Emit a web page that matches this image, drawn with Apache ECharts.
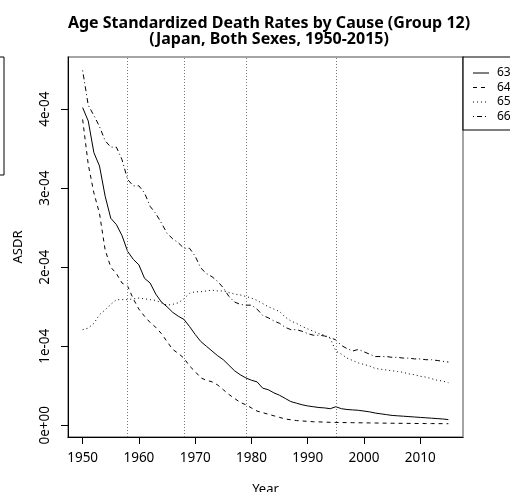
<!DOCTYPE html>
<html>
<head>
<meta charset="utf-8">
<script src="https://cdn.jsdelivr.net/npm/echarts@6/dist/echarts.min.js"></script>
<style>
html,body{margin:0;padding:0;background:#fff;}
#c{width:510px;height:492px;}
</style>
</head>
<body>
<div id="c"></div>
<script>
// Years 1950..2015
const years = [];
for (let y = 1950; y <= 2015; y++) years.push(y);

// ASDR values in units of 1e-04
const cause63 = [4.02,3.85,3.45,3.28,2.90,2.62,2.54,2.40,2.20,2.10,
  2.03,1.86,1.80,1.66,1.56,1.50,1.43,1.38,1.34,1.25,
  1.15,1.06,1.00,0.94,0.88,0.83,0.76,0.69,0.64,0.60,
  0.57,0.55,0.47,0.45,0.41,0.38,0.34,0.30,0.28,0.26,
  0.245,0.235,0.225,0.22,0.21,0.235,0.21,0.20,0.195,0.19,
  0.18,0.17,0.155,0.145,0.135,0.125,0.12,0.115,0.11,0.105,
  0.10,0.095,0.09,0.085,0.08,0.072];
const cause64 = [3.87,3.30,2.94,2.68,2.22,2.00,1.92,1.80,1.76,1.60,
  1.47,1.38,1.30,1.24,1.16,1.06,0.96,0.91,0.85,0.75,
  0.68,0.60,0.57,0.55,0.51,0.45,0.39,0.34,0.29,0.26,
  0.22,0.18,0.16,0.14,0.12,0.10,0.08,0.07,0.06,0.055,
  0.05,0.045,0.043,0.04,0.038,0.036,0.035,0.034,0.033,0.032,
  0.031,0.030,0.029,0.028,0.027,0.026,0.025,0.025,0.024,0.023,
  0.023,0.022,0.022,0.021,0.021,0.020];
const cause65 = [1.21,1.23,1.29,1.40,1.46,1.53,1.59,1.59,1.59,1.60,
  1.61,1.60,1.59,1.58,1.55,1.52,1.53,1.55,1.60,1.67,
  1.69,1.69,1.70,1.71,1.70,1.70,1.68,1.66,1.65,1.63,
  1.61,1.58,1.54,1.50,1.47,1.44,1.37,1.32,1.29,1.25,
  1.22,1.19,1.16,1.14,1.10,0.94,0.90,0.85,0.82,0.79,
  0.77,0.75,0.72,0.71,0.70,0.69,0.68,0.67,0.65,0.64,
  0.62,0.61,0.59,0.57,0.56,0.54];
const cause66 = [4.49,4.05,3.92,3.78,3.60,3.52,3.52,3.36,3.11,3.03,
  3.03,2.94,2.77,2.68,2.56,2.43,2.36,2.31,2.24,2.24,
  2.14,1.99,1.92,1.88,1.82,1.74,1.63,1.56,1.53,1.52,
  1.52,1.47,1.39,1.36,1.32,1.29,1.24,1.21,1.21,1.19,
  1.16,1.14,1.14,1.13,1.11,1.08,1.01,0.97,0.94,0.96,
  0.93,0.90,0.87,0.87,0.87,0.86,0.86,0.85,0.85,0.84,
  0.84,0.83,0.83,0.82,0.81,0.80];

const seriesNames = ['63','64','65','66'];
const eventYears = [1958, 1968, 1979, 1995];
const xTicks = [1950,1960,1970,1980,1990,2000,2010];
const yTicks = [0,1,2,3,4];

const FONT = '"Noto Sans", "Liberation Sans", sans-serif';
const dashes = ['solid', [4,4], [1,3], [1,3,5,3]];
const allData = [cause63, cause64, cause65, cause66];

const chart = echarts.init(document.getElementById('c'), null, {renderer:'canvas'});

const series = allData.map((vals, i) => ({
  name: seriesNames[i],
  type: 'line',
  showSymbol: false,
  symbol: 'none',
  silent: true,
  animation: false,
  lineStyle: {color:'#000', width:1, type: dashes[i]},
  data: years.map((y, k) => [y, vals[k]]),
  markLine: i === 0 ? {
    silent: true, symbol: 'none', animation:false,
    label: {show:false},
    lineStyle: {color:'#777', width:1, type:[1,2]},
    data: eventYears.map(y => ({xAxis: y}))
  } : undefined
}));

// legend graphic
const legendG = [];
legendG.push({type:'rect', shape:{x:463, y:57, width:80, height:73},
  style:{fill:'#fff', stroke:'#000', lineWidth:1.2}, z:10});
seriesNames.forEach((n, i) => {
  const yy = 73 + i*14.5;
  legendG.push({type:'line', shape:{x1:473, y1:yy, x2:489, y2:yy},
    style:{stroke:'#000', lineWidth:1, lineDash: dashes[i]==='solid'?null:dashes[i]}, z:11});
  legendG.push({type:'text', x:497, y:yy, style:{text:n, fill:'#000',
    font:'12px ' + FONT, textVerticalAlign:'middle'}, z:11});
});
// stray box at left edge
legendG.push({type:'rect', shape:{x:-100, y:57, width:104, height:118},
  style:{fill:'none', stroke:'#000', lineWidth:1}, z:10});

chart.setOption({
  animation: false,
  backgroundColor: '#fff',
  title: {
    text: 'Age Standardized Death Rates by Cause (Group 12)\n(Japan, Both Sexes, 1950-2015)',
    left: 264, top: 10, textAlign: 'center',
    textStyle: {fontFamily: FONT, fontSize: 16, fontWeight: 'bold', color:'#000', lineHeight: 16}
  },
  grid: {left: 68, right: 47, top: 57, bottom: 55, show: true, borderColor: '#888', borderWidth: 1.5,
    containLabel: false, outerBoundsMode: 'none'},
  xAxis: {
    type: 'value', min: 1947.4, max: 2017.6,
    name: 'Year', nameLocation: 'middle', nameGap: 46,
    nameTextStyle: {fontFamily: FONT, fontSize: 13, color:'#000'},
    axisLine: {show: true, onZero:false, lineStyle:{color:'#000', width:1}},
    axisTick: {show: true, length: 7, lineStyle:{color:'#000'}, customValues: xTicks},
    axisLabel: {fontFamily: FONT, fontSize: 13.5, color:'#000', margin: 14, customValues: xTicks,
      formatter: v => String(v)},
    splitLine: {show: false}
  },
  yAxis: {
    type: 'value', min: -0.148, max: 4.66,
    name: 'ASDR', nameLocation: 'middle', nameGap: 43,
    nameTextStyle: {fontFamily: FONT, fontSize: 13, color:'#000'},
    axisLine: {show: true, onZero:false, lineStyle:{color:'#000', width:1}},
    axisTick: {show: true, length: 7, lineStyle:{color:'#000'}, customValues: yTicks},
    axisLabel: {fontFamily: FONT, fontSize: 13.5, color:'#000', margin: 16, rotate: 90,
      customValues: yTicks,
      formatter: v => v === 0 ? '0e+00' : (v + 'e-04')},
    splitLine: {show: false}
  },
  graphic: legendG,
  series: series
});
</script>
</body>
</html>
